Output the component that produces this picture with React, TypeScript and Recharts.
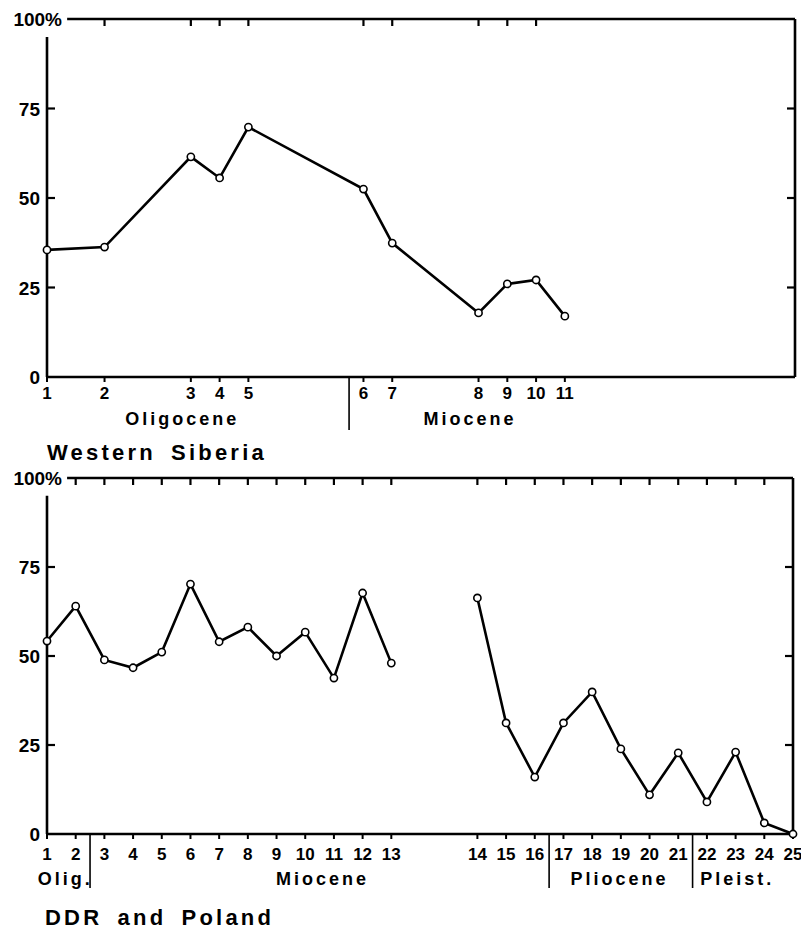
import { LineChart, Line, XAxis, YAxis, ReferenceLine } from "recharts";

// Western Siberia
const siberiaSample = [1, 2, 3, 4, 5, 6, 7, 8, 9, 10, 11];
const siberiaSlot = [0, 2, 5, 6, 7, 11, 12, 15, 16, 17, 18];
const siberiaPct = [35.5, 36.3, 61.5, 55.6, 69.8, 52.5, 37.4, 17.9, 26.0, 27.1, 17.0];
const siberiaEpochs = ["Oligocene", "Miocene"];
const siberiaEpochAt = [4.7, 14.7];
const siberiaBounds = [10.5];

// DDR and Poland
const ddrSample = [1, 2, 3, 4, 5, 6, 7, 8, 9, 10, 11, 12, 13, 14, 15, 16, 17, 18, 19, 20, 21, 22, 23, 24, 25];
const ddrSlot = [0, 1, 2, 3, 4, 5, 6, 7, 8, 9, 10, 11, 12, 15, 16, 17, 18, 19, 20, 21, 22, 23, 24, 25, 26];
const ddrPct = [54.2, 64.0, 48.9, 46.7, 51.1, 70.2, 54.0, 58.1, 50.0, 56.7, 43.8, 67.7, 48.0, 66.3, 31.2, 16.0, 31.2, 39.9, 23.9, 11.0, 22.8, 9.0, 23.0, 3.1, 0];
const ddrBreakAfter = 13;
const ddrEpochs = ["Olig.", "Miocene", "Pliocene", "Pleist."];
const ddrEpochAt = [0.64, 9.6, 19.95, 24.06];
const ddrBounds = [1.5, 17.5, 22.5];

const yTicks = [0, 25, 50, 75, 100];
const rightTicks = [25, 50, 75];
const FONT = "'Liberation Sans', Arial, sans-serif";

function YTick(props: any) {
  const { x, y, payload } = props;
  const v = payload.value;
  if (v === 100) {
    return (
      <text x={x + 15} y={y} dy={7} textAnchor="end" fontSize={19} fontFamily={FONT} fontWeight={700} fill="#000">
        100%
      </text>
    );
  }
  return (
    <g>
      {v !== 0 && <line x1={x} x2={x + 8} y1={y} y2={y} stroke="#000" strokeWidth={2.2} />}
      <text x={x - 7} y={y} dy={7} textAnchor="end" fontSize={19} fontFamily={FONT} fontWeight={700} fill="#000">
        {v}
      </text>
    </g>
  );
}

// inward tick mark hanging from the top border
const topMark = (p: any) => {
  const yt = Math.min(p.y1, p.y2);
  return <line x1={p.x1} x2={p.x1} y1={yt} y2={yt + 7} stroke="#000" strokeWidth={2.2} />;
};

// inward tick mark on the right border
const rightMark = (p: any) => {
  const xr = Math.max(p.x1, p.x2);
  return <line x1={xr - 8} x2={xr} y1={p.y1} y2={p.y1} stroke="#000" strokeWidth={2.2} />;
};

function divider(drop: number) {
  return (p: any) => {
    const yb = Math.max(p.y1, p.y2);
    return <line x1={p.x1} x2={p.x1} y1={yb} y2={yb + drop} stroke="#000" strokeWidth={1.6} />;
  };
}

type Row = { slot: number; pct: number | null };

function Panel(props: {
  height: number;
  top: number;
  right: number;
  bottomH: number;
  rows: Row[];
  slots: number[];
  samples: number[];
  epochs: string[];
  epochAt: number[];
  bounds: number[];
  tickMargin: number;
  epochOffset: number;
  drop: number;
}) {
  const { height, bottomH, rows, slots, samples, epochs, epochAt, bounds } = props;
  const label = (s: number) => String(samples[slots.indexOf(s)] ?? "");
  return (
    <LineChart width={801} height={height} data={rows} margin={{ top: props.top, right: props.right, bottom: 0, left: 0 }}>
      <XAxis
        dataKey="slot"
        type="number"
        domain={[0, 26]}
        ticks={slots}
        interval={0}
        height={bottomH}
        tickFormatter={label}
        axisLine={{ stroke: "#000", strokeWidth: 2.6 }}
        tickLine={{ stroke: "#000", strokeWidth: 2 }}
        tickSize={5}
        tickMargin={props.tickMargin}
        tick={{ fill: "#000", fontSize: 17, fontFamily: FONT, fontWeight: 700 }}
      />
      <YAxis
        domain={[0, 100]}
        ticks={yTicks}
        interval={0}
        width={47}
        axisLine={false}
        tickLine={false}
        tickSize={0}
        tickMargin={0}
        tick={<YTick />}
      />
      {/* frame */}
      <ReferenceLine segment={[{ x: 0.7, y: 100 }, { x: 26, y: 100 }]} stroke="#000" strokeWidth={2.6} ifOverflow="visible" />
      <ReferenceLine segment={[{ x: 0, y: 0 }, { x: 0, y: 95 }]} stroke="#000" strokeWidth={2.6} ifOverflow="visible" />
      <ReferenceLine x={26} stroke="#000" strokeWidth={2.6} ifOverflow="visible" />
      {slots.slice(1, -1).map((s) => (
        <ReferenceLine key={"t" + s} x={s} ifOverflow="visible" shape={topMark} />
      ))}
      {rightTicks.map((v) => (
        <ReferenceLine key={"r" + v} y={v} ifOverflow="visible" shape={rightMark} />
      ))}
      {bounds.map((b) => (
        <ReferenceLine key={"b" + b} x={b} ifOverflow="visible" shape={divider(props.drop)} />
      ))}
      {epochs.map((e, i) => (
        <ReferenceLine
          key={e}
          x={epochAt[i]}
          stroke="none"
          ifOverflow="visible"
          label={{
            value: e,
            position: "bottom",
            offset: props.epochOffset,
            fill: "#000",
            fontSize: 18,
            fontFamily: FONT,
            fontWeight: 700,
            letterSpacing: 3,
          }}
        />
      ))}
      <Line
        dataKey="pct"
        stroke="#000"
        strokeWidth={2.6}
        connectNulls={false}
        dot={{ r: 3.6, fill: "#fff", stroke: "#000", strokeWidth: 1.6 }}
        isAnimationActive={false}
      />
    </LineChart>
  );
}

export default function App() {
  const siberiaRows: Row[] = siberiaSlot.map((s, i) => ({ slot: s, pct: siberiaPct[i] }));
  const ddrRows: Row[] = [];
  ddrSlot.forEach((s, i) => {
    ddrRows.push({ slot: s, pct: ddrPct[i] });
    if (ddrSample[i] === ddrBreakAfter) ddrRows.push({ slot: s + 1.5, pct: null });
  });

  const titleStyle: React.CSSProperties = {
    position: "absolute",
    fontFamily: FONT,
    fontSize: 22,
    fontWeight: 700,
    letterSpacing: 3.2,
    wordSpacing: 6,
    color: "#000",
    lineHeight: "22px",
    whiteSpace: "nowrap",
  };

  return (
    <div style={{ position: "absolute", left: 0, top: 0, width: 801, height: 929, background: "#fff" }}>
      <div style={{ position: "absolute", left: 0, top: 0 }}>
        <Panel
          height={460}
          top={19}
          right={6}
          bottomH={83}
          rows={siberiaRows}
          slots={siberiaSlot}
          samples={siberiaSample}
          epochs={siberiaEpochs}
          epochAt={siberiaEpochAt}
          bounds={siberiaBounds}
          tickMargin={5}
          epochOffset={35}
          drop={53}
        />
      </div>
      <div style={{ ...titleStyle, left: 47, top: 442 }}>Western Siberia</div>
      <div style={{ position: "absolute", left: 0, top: 460 }}>
        <Panel
          height={469}
          top={18}
          right={8}
          bottomH={95}
          rows={ddrRows}
          slots={ddrSlot}
          samples={ddrSample}
          epochs={ddrEpochs}
          epochAt={ddrEpochAt}
          bounds={ddrBounds}
          tickMargin={9}
          epochOffset={38}
          drop={54}
        />
      </div>
      <div style={{ ...titleStyle, left: 45, top: 907 }}>DDR and Poland</div>
    </div>
  );
}
